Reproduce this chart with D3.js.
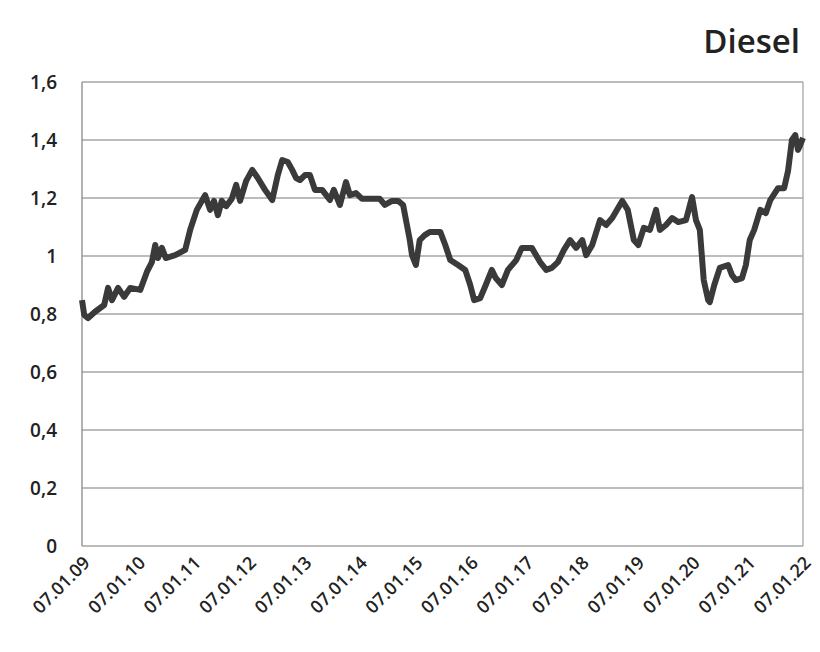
<!DOCTYPE html><html><head><meta charset="utf-8"><script src="https://cdn.jsdelivr.net/npm/d3@7"></script>
<style>body{margin:0;background:#fff}</style></head><body><svg id="c" width="820" height="652"></svg>
<script>
const title="Diesel";
const xTickLabels=["07.01.09","07.01.10","07.01.11","07.01.12","07.01.13","07.01.14","07.01.15","07.01.16","07.01.17","07.01.18","07.01.19","07.01.20","07.01.21","07.01.22"];
const yTicks=[0,0.2,0.4,0.6,0.8,1,1.2,1.4,1.6];
const years=[2009.00,2009.04,2009.11,2009.23,2009.40,2009.47,2009.54,2009.65,2009.76,2009.87,2010.05,2010.17,2010.26,2010.32,2010.37,2010.44,2010.51,2010.68,2010.86,2010.95,2011.07,2011.22,2011.31,2011.38,2011.45,2011.52,2011.60,2011.70,2011.78,2011.85,2011.96,2012.07,2012.17,2012.30,2012.43,2012.53,2012.61,2012.71,2012.79,2012.86,2012.93,2013.02,2013.11,2013.20,2013.33,2013.47,2013.54,2013.65,2013.76,2013.83,2013.94,2014.05,2014.19,2014.37,2014.46,2014.59,2014.70,2014.79,2014.91,2014.95,2015.02,2015.09,2015.18,2015.27,2015.46,2015.55,2015.64,2015.78,2015.91,2016.00,2016.07,2016.18,2016.28,2016.39,2016.46,2016.57,2016.68,2016.83,2016.93,2017.11,2017.26,2017.37,2017.47,2017.58,2017.69,2017.80,2017.91,2018.02,2018.09,2018.20,2018.34,2018.45,2018.56,2018.74,2018.84,2018.95,2019.03,2019.13,2019.24,2019.35,2019.42,2019.53,2019.64,2019.75,2019.89,2020.00,2020.07,2020.14,2020.21,2020.29,2020.32,2020.40,2020.50,2020.65,2020.72,2020.79,2020.90,2020.97,2021.04,2021.12,2021.23,2021.33,2021.41,2021.55,2021.66,2021.73,2021.80,2021.86,2021.91,2021.95,2022.00];
const prices=[0.848,0.797,0.786,0.807,0.831,0.890,0.848,0.890,0.859,0.890,0.883,0.945,0.979,1.038,0.993,1.028,0.993,1.003,1.021,1.090,1.159,1.210,1.159,1.190,1.141,1.190,1.172,1.197,1.245,1.190,1.259,1.297,1.269,1.228,1.193,1.279,1.331,1.324,1.297,1.269,1.262,1.279,1.279,1.228,1.228,1.193,1.228,1.176,1.255,1.210,1.217,1.197,1.197,1.197,1.176,1.190,1.190,1.176,1.055,1.003,0.969,1.055,1.072,1.083,1.083,1.038,0.986,0.969,0.952,0.900,0.848,0.855,0.900,0.952,0.924,0.900,0.952,0.986,1.028,1.028,0.979,0.952,0.959,0.979,1.021,1.055,1.028,1.055,1.003,1.038,1.124,1.107,1.131,1.190,1.159,1.055,1.038,1.097,1.090,1.159,1.090,1.107,1.131,1.117,1.124,1.203,1.124,1.090,0.917,0.848,0.841,0.900,0.959,0.969,0.934,0.917,0.924,0.969,1.055,1.090,1.159,1.148,1.193,1.234,1.234,1.293,1.400,1.417,1.366,1.383,1.407];
const W=820,H=652,m={l:82,r:803,t:82,b:546};
const svg=d3.select("#c");
const x=d3.scaleLinear().domain([2009,2022]).range([m.l,m.r]);
const y=d3.scaleLinear().domain([0,1.6]).range([m.b,m.t]);
const fmt=v=>String(v).replace(".",",");
svg.append("g").selectAll("line").data(yTicks).join("line").attr("x1",m.l).attr("x2",m.r).attr("y1",d=>y(d)).attr("y2",d=>y(d)).attr("stroke","#a6a6a6").attr("stroke-width",1.3);
svg.append("line").attr("x1",m.r).attr("x2",m.r).attr("y1",m.t).attr("y2",m.b).attr("stroke","#a6a6a6").attr("stroke-width",1.3);
svg.append("line").attr("x1",m.l).attr("x2",m.l).attr("y1",m.t).attr("y2",m.b).attr("stroke","#888").attr("stroke-width",1.3);
svg.append("g").selectAll("text").data(yTicks).join("text").attr("x",57).attr("y",d=>y(d)+7).attr("text-anchor","end").attr("font-family","Open Sans").attr("font-weight",600).attr("font-size",19).attr("fill","#222").text(fmt);
svg.append("g").selectAll("text").data(xTickLabels).join("text").attr("transform",(d,i)=>`translate(${x(2009+i)+9},${m.b+18}) rotate(-45)`).attr("text-anchor","end").attr("font-family","Open Sans").attr("font-weight",600).attr("font-size",18).attr("fill","#222").text(d=>d);
svg.append("path").datum(years.map((t,i)=>[t,prices[i]])).attr("d",d3.line().x(d=>x(d[0])).y(d=>y(d[1]))).attr("fill","none").attr("stroke","#3a3a3a").attr("stroke-width",6).attr("stroke-linejoin","round");
svg.append("text").attr("x",800).attr("y",53).attr("text-anchor","end").attr("font-family","Open Sans").attr("font-weight",600).attr("font-size",33).attr("fill","#222").text(title);
</script></body></html>
